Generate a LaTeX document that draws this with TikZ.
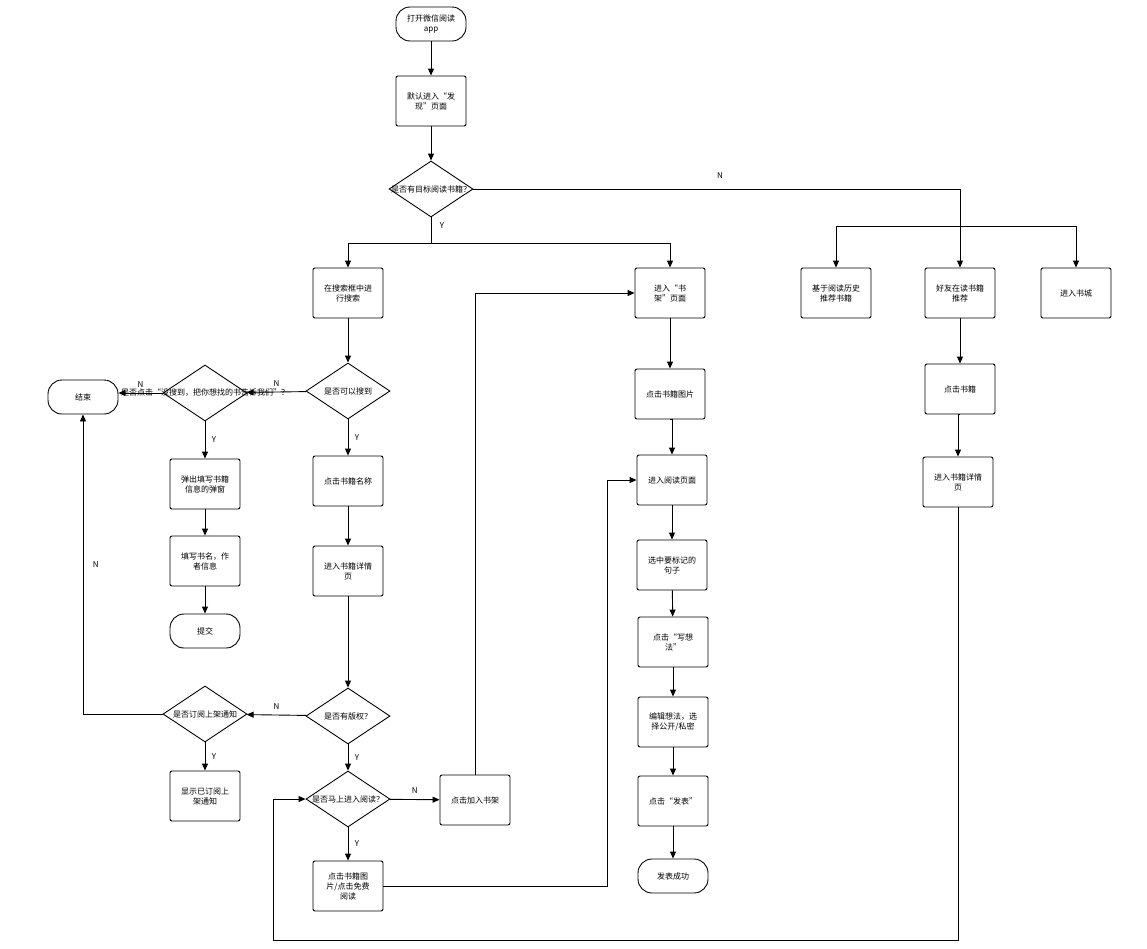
\documentclass[tikz,border=0pt]{standalone}
\usepackage{fontspec}
\setmainfont{Noto Sans CJK SC}
\usetikzlibrary{shapes.geometric,arrows.meta}
\begin{document}
\begin{tikzpicture}[x=1pt,y=-1pt,font=\fontsize{8}{10}\selectfont,
 box/.style={draw,line width=0.9pt,rounded corners=2pt,minimum width=70pt,minimum height=50pt,align=center,inner sep=1pt},
 term/.style={draw,line width=0.9pt,rounded corners=14pt,minimum width=70pt,minimum height=34pt,align=center},
 dec/.style={draw,line width=0.9pt,diamond,minimum width=84pt,minimum height=56pt,aspect=1.5,inner sep=0pt,align=center},
 ar/.style={-{Triangle[length=7pt,width=6pt]},line width=0.9pt},
 ln/.style={line width=0.9pt},
 lb/.style={font=\fontsize{8}{10}\selectfont}]
\useasboundingbox (0,0) rectangle (1147,948);
\node[term] (start) at (431,24) {打开微信阅读\\app};
\node[box] (faxian) at (431,101) {默认进入“发\\现”页面};
\node[dec] (d1) at (431,189) {};
\node at (431,189) {是否有目标阅读\\书籍？};
\node[box] (search) at (348,293) {在搜索框中进\\行搜索};
\node[dec] (d2) at (348,391) {};
\node at (348,391) {是否可以搜到};
\node[dec] (d3) at (205,393) {};
\node at (205,393) {是否点击“没搜\\到，把你想找的\\书告诉我们”？};
\node[term] (end) at (83,397) {结束};
\node[box] (tan) at (205,484) {弹出填写书籍\\信息的弹窗};
\node[box] (tian) at (205,561) {填写书名，作\\者信息};
\node[term] (tijiao) at (205,631) {提交};
\node[box] (mingcheng) at (348,481) {点击书籍名称};
\node[box] (xq1) at (348,571) {进入书籍详情\\页};
\node[dec] (d4) at (348,716) {};
\node at (348,716) {是否有版权？};
\node[dec] (d5) at (205,714) {};
\node at (205,714) {是否订阅上架通\\知};
\node[box] (xianshi) at (205,796) {显示已订阅上\\架通知};
\node[dec] (d6) at (348,799) {};
\node at (348,799) {是否马上进入阅\\读？};
\node[box] (jiaru) at (475,800) {点击加入书架};
\node[box] (mianfei) at (348,886) {点击书籍图\\片/点击免费\\阅读};
\node[box] (shujia) at (670,293) {进入“书\\架”页面};
\node[box] (tupian) at (670,394) {点击书籍图片};
\node[box] (yuedu) at (672,480) {进入阅读页面};
\node[box] (xuanzhong) at (672,565) {选中要标记的\\句子};
\node[box] (xiang) at (673,642) {点击“写想\\法”};
\node[box] (bianji) at (673,722) {编辑想法，选\\择公开/私密};
\node[box] (fabiao) at (673,801) {点击“发表”};
\node[term] (chenggong) at (673,876) {发表成功};
\node[box] (lishi) at (836,293) {基于阅读历史\\推荐书籍};
\node[box] (haoyou) at (960,293) {好友在读书籍\\推荐};
\node[box] (shucheng) at (1076,293) {进入书城};
\node[box] (dianji) at (960,389) {点击书籍};
\node[box] (xq2) at (958,482) {进入书籍详情\\页};
\coordinate (b1) at (431,243);
\coordinate (b2) at (960,226);
% edges
\draw[ar] (start) -- (faxian);
\draw[ar] (faxian) -- (d1);
\draw[ln] (d1.south) -- (b1);
\draw[ar] (b1) -| (search.north);
\draw[ar] (b1) -| (shujia.north);
\node[lb] at (442,226) {Y};
\draw[ar] (d1.east) -| (haoyou.north);
\node[lb] at (720,176) {N};
\draw[ar] (b2) -| (lishi.north);
\draw[ar] (b2) -| (shucheng.north);
\draw[ar] (search) -- (d2);
\draw[ar] (d2) -- node[above,lb,yshift=2pt]{N} (d3);
\draw[ar] (d2) -- node[right,lb,xshift=3pt]{Y} (mingcheng);
\draw[ar] (d3.west) -- node[above,lb,yshift=2pt]{N} (end.east |- d3.west);
\draw[ar] (d3) -- node[right,lb,xshift=3pt]{Y} (tan);
\draw[ar] (tan) -- (tian);
\draw[ar] (tian) -- (tijiao);
\draw[ar] (mingcheng) -- (xq1);
\draw[ar] (xq1) -- (d4);
\draw[ar] (d4) -- node[above,lb,yshift=2pt]{N} (d5);
\draw[ar] (d5) -- node[right,lb,xshift=3pt]{Y} (xianshi);
\draw[ar] (d5.west) -| node[pos=0.75,right,lb,xshift=6pt]{N} (end.south);
\draw[ar] (d4) -- node[right,lb,xshift=3pt]{Y} (d6);
\draw[ar] (d6) -- node[above,lb,yshift=2pt]{N} (jiaru);
\draw[ar] (d6) -- node[right,lb,xshift=3pt]{Y} (mianfei);
\draw[ar] (jiaru.north) |- (shujia.west);
\draw[ar] (mianfei.east) -| (607,480) -- (yuedu.west);
\draw[ar] (shujia) -- (tupian);
\draw[ar] (tupian.south) -- (tupian.south -| yuedu.north) -- (yuedu.north);
\draw[ar] (yuedu) -- (xuanzhong);
\draw[ar] (xuanzhong) -- (xiang);
\draw[ar] (xiang) -- (bianji);
\draw[ar] (bianji) -- (fabiao);
\draw[ar] (fabiao) -- (chenggong);
\draw[ar] (haoyou) -- (dianji);
\draw[ar] (dianji.south) -- (dianji.south -| xq2.north) -- (xq2.north);
\draw[ar] (xq2.south) |- (273,940) |- (d6.west);
\end{tikzpicture}
\end{document}
